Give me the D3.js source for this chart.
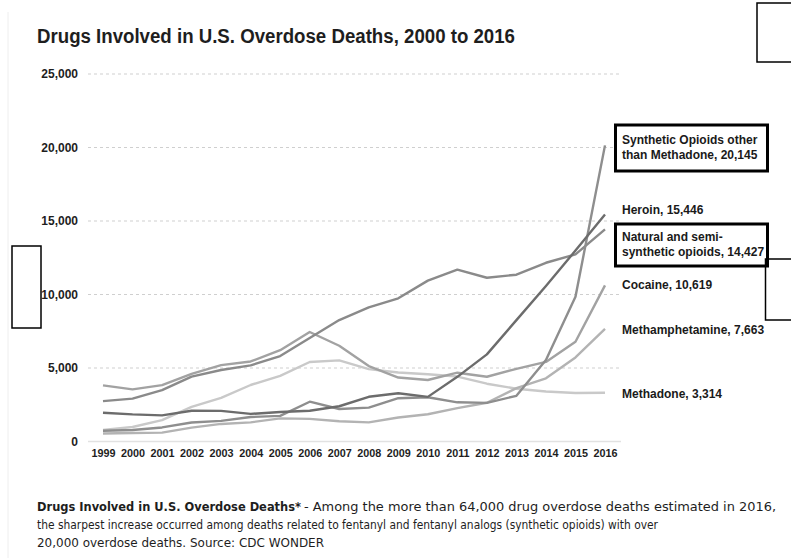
<!DOCTYPE html>
<html>
<head>
<meta charset="utf-8">
<script src="https://cdn.jsdelivr.net/npm/d3@7"></script>
<style>
  html, body { margin: 0; padding: 0; background: #fff; }
  svg { display: block; }
</style>
</head>
<body>
<svg id="chart" width="791" height="558"></svg>
<script>
const years = [1999, 2000, 2001, 2002, 2003, 2004, 2005, 2006, 2007, 2008, 2009, 2010, 2011, 2012, 2013, 2014, 2015, 2016];
const synthetic = [730, 782, 957, 1295, 1400, 1664, 1742, 2707, 2213, 2306, 2946, 3007, 2666, 2628, 3105, 5544, 9850, 20145];
const heroin = [1960, 1842, 1779, 2089, 2080, 1878, 2009, 2088, 2399, 3041, 3278, 3036, 4397, 5925, 8257, 10574, 12989, 15446];
const natural = [2749, 2917, 3491, 4416, 4867, 5180, 5813, 7040, 8260, 9120, 9740, 10943, 11693, 11140, 11346, 12159, 12727, 14427];
const cocaine = [3822, 3544, 3833, 4599, 5199, 5443, 6208, 7448, 6512, 5129, 4350, 4183, 4681, 4404, 4944, 5415, 6784, 10619];
const meth = [547, 578, 606, 946, 1195, 1303, 1572, 1542, 1378, 1302, 1632, 1854, 2266, 2635, 3627, 4298, 5716, 7663];
const methadone = [784, 988, 1456, 2358, 2972, 3845, 4460, 5406, 5518, 4924, 4696, 4577, 4418, 3932, 3591, 3400, 3301, 3314];
const yTicks = [0, 5000, 10000, 15000, 20000, 25000];

const seriesNames = ["Methadone", "Methamphetamine", "Cocaine", "Natural and semi-synthetic opioids", "Synthetic Opioids other than Methadone", "Heroin"];
const seriesValues = [methadone, meth, cocaine, natural, synthetic, heroin];
const seriesColors = ["#c9c9c9", "#b3b3b3", "#a2a2a2", "#8a8a8a", "#8e8e8e", "#6c6c6c"];

const svg = d3.select("#chart");

const x = d3.scalePoint().domain(years).range([103, 605]);
const y = d3.scaleLinear().domain([0, 25000]).range([441.5, 74]);

// faint page border of the screenshot
svg.append("line").attr("x1", 8).attr("x2", 8).attr("y1", 12).attr("y2", 558)
  .attr("stroke", "#eeeeee").attr("stroke-width", 1);

// title
svg.append("text")
  .attr("x", 37).attr("y", 43)
  .attr("font-family", "'Liberation Sans', Arial, sans-serif")
  .attr("font-weight", "bold").attr("font-size", 20)
  .attr("fill", "#1e1e1e")
  .attr("textLength", 478).attr("lengthAdjust", "spacingAndGlyphs")
  .text("Drugs Involved in U.S. Overdose Deaths, 2000 to 2016");

// gridlines
const grid = svg.append("g");
grid.selectAll("line.g").data(yTicks.filter(d => d > 0)).join("line")
  .attr("x1", 88).attr("x2", 621)
  .attr("y1", d => y(d)).attr("y2", d => y(d))
  .attr("stroke", "#cfcfcf").attr("stroke-width", 1)
  .attr("stroke-dasharray", "3,3");
grid.append("line").attr("x1", 88).attr("x2", 621).attr("y1", y(0)).attr("y2", y(0))
  .attr("stroke", "#e2e2e2").attr("stroke-width", 1.5);

// y axis labels
const yAxis = d3.axisLeft(y).tickValues(yTicks).tickFormat(d3.format(",")).tickSize(0).tickPadding(0);
const yg = svg.append("g").attr("transform", "translate(78,0)").call(yAxis);
yg.select(".domain").remove();
yg.selectAll("text").attr("font-family", "'Liberation Sans', Arial, sans-serif")
  .attr("font-weight", "bold").attr("font-size", 12).attr("fill", "#1e1e1e");

// x axis labels
const xAxis = d3.axisBottom(x).tickSize(0).tickPadding(0).tickFormat(d => String(d));
const xg = svg.append("g").attr("transform", "translate(0,449)").call(xAxis);
xg.select(".domain").remove();
xg.selectAll("text").attr("font-family", "'Liberation Sans', Arial, sans-serif")
  .attr("font-weight", "bold").attr("font-size", 10.8).attr("fill", "#1e1e1e");

// lines
const line = d3.line().x((d, i) => x(years[i])).y(d => y(d));
svg.append("g").selectAll("path").data(seriesValues).join("path")
  .attr("d", d => line(d))
  .attr("fill", "none")
  .attr("stroke", (d, i) => seriesColors[i])
  .attr("stroke-width", 2.4)
  .attr("stroke-linejoin", "round");

// boxes around two labels (drawn before text)
svg.append("rect").attr("x", 615.5).attr("y", 125).attr("width", 152).attr("height", 46)
  .attr("fill", "#fff").attr("stroke", "#000").attr("stroke-width", 3);
svg.append("rect").attr("x", 615.5).attr("y", 224).attr("width", 152).attr("height", 42)
  .attr("fill", "#fff").attr("stroke", "#000").attr("stroke-width", 3);

// series labels
const lab = svg.append("g").attr("font-family", "'Liberation Sans', Arial, sans-serif")
  .attr("font-weight", "bold").attr("font-size", 12).attr("fill", "#1a1a1a");
function label(lines, x0, y0) {
  lines.forEach((t, i) => lab.append("text").attr("x", x0).attr("y", y0 + i * 14.5).text(t));
}
label(["Synthetic Opioids other", "than Methadone, " + d3.format(",")(synthetic[synthetic.length - 1])], 622, 144);
label(["Heroin, " + d3.format(",")(heroin[heroin.length - 1])], 622, 214);
label(["Natural and semi-", "synthetic opioids, " + d3.format(",")(natural[natural.length - 1])], 622, 241);
label(["Cocaine, " + d3.format(",")(cocaine[cocaine.length - 1])], 622, 289);
label(["Methamphetamine, " + d3.format(",")(meth[meth.length - 1])], 622, 334);
label(["Methadone, " + d3.format(",")(methadone[methadone.length - 1])], 622, 398);

// empty annotation boxes
svg.append("rect").attr("x", 757).attr("y", 3).attr("width", 40).attr("height", 59)
  .attr("fill", "none").attr("stroke", "#000").attr("stroke-width", 1.5);
svg.append("rect").attr("x", 12).attr("y", 246).attr("width", 29).attr("height", 82)
  .attr("fill", "none").attr("stroke", "#000").attr("stroke-width", 1.5);
svg.append("rect").attr("x", 765.5).attr("y", 259).attr("width", 40).attr("height", 61)
  .attr("fill", "none").attr("stroke", "#000").attr("stroke-width", 1.5);

// caption
const cap = svg.append("g").attr("font-family", "'DejaVu Sans Condensed', 'DejaVu Sans', sans-serif")
  .attr("font-size", 12).attr("fill", "#1e1e1e");
cap.append("text").attr("x", 37).attr("y", 511).attr("font-weight", "bold")
  .attr("textLength", 264).attr("lengthAdjust", "spacingAndGlyphs")
  .text("Drugs Involved in U.S. Overdose Deaths*");
cap.append("text").attr("x", 304).attr("y", 511)
  .attr("textLength", 472).attr("lengthAdjust", "spacingAndGlyphs")
  .text("- Among the more than 64,000 drug overdose deaths estimated in 2016,");
cap.append("text").attr("x", 37).attr("y", 529)
  .attr("textLength", 621).attr("lengthAdjust", "spacingAndGlyphs")
  .text("the sharpest increase occurred among deaths related to fentanyl and fentanyl analogs (synthetic opioids) with over");
cap.append("text").attr("x", 37).attr("y", 547)
  .attr("textLength", 287).attr("lengthAdjust", "spacingAndGlyphs")
  .text("20,000 overdose deaths. Source: CDC WONDER");
</script>
</body>
</html>
